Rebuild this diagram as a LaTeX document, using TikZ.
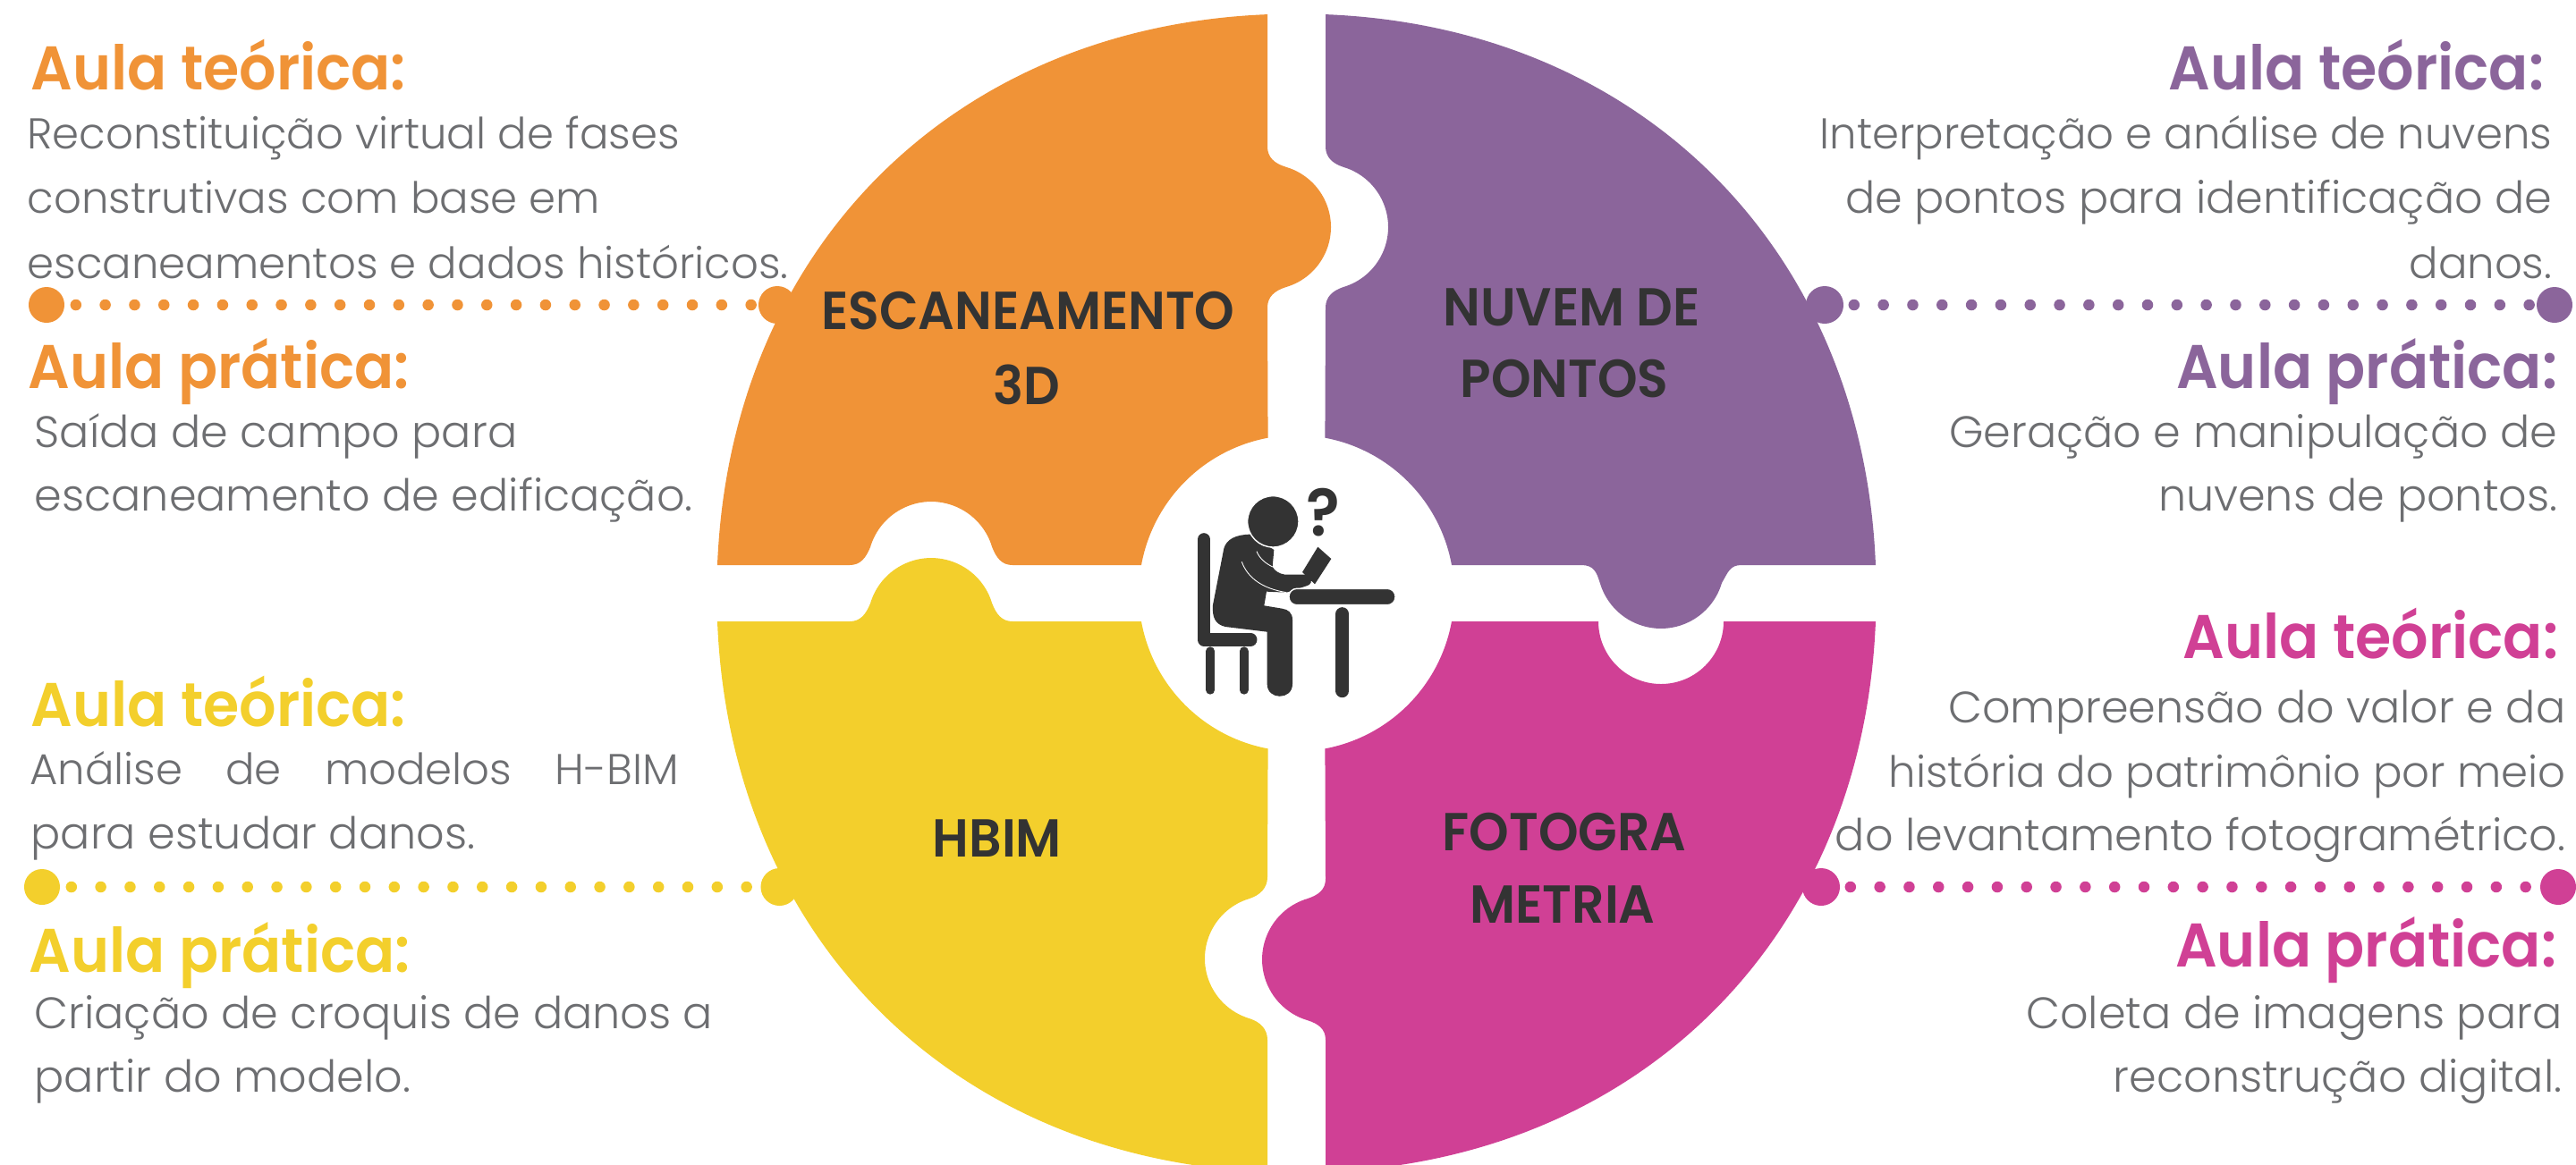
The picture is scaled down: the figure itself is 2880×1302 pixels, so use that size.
\documentclass[tikz,border=0pt]{standalone}
\usepackage{fontspec}
\usepackage{tikz}
\newfontfamily\bodyfont{Poppins Light}
\newfontfamily\headfont[FakeStretch=0.945]{Poppins SemiBold}
\newfontfamily\markfont[FakeStretch=0.95]{Poppins SemiBold}
\definecolor{cdark}{HTML}{333333}
\definecolor{cgray}{HTML}{6D6E71}
\definecolor{corange}{HTML}{F09337}
\definecolor{cpurple}{HTML}{8B659B}
\definecolor{cyellow}{HTML}{F3CF2C}
\definecolor{cmagenta}{HTML}{D04095}
\tikzset{
  headl/.style={anchor=base west,inner sep=0pt,font=\headfont\fontsize{19.6}{24}\selectfont},
  headr/.style={anchor=base east,inner sep=0pt,font=\headfont\fontsize{19.6}{24}\selectfont},
  bodyl/.style={anchor=base west,inner sep=0pt,text=cgray,font=\bodyfont\fontsize{13.7}{17}\selectfont},
  bodyr/.style={anchor=base east,inner sep=0pt,text=cgray,font=\bodyfont\fontsize{13.7}{17}\selectfont},
  bodywide/.style={font=\bodyfont\fontsize{14}{17}\selectfont},
  piecelabel/.style={anchor=base,inner sep=0pt,text=cdark,font=\markfont\fontsize{17}{20}\selectfont},
  knob/.style={circle,inner sep=0pt,minimum size=0.42cm,fill=#1},
  enddot/.style={circle,inner sep=0pt,minimum size=0.4cm,fill=#1},
  dotline/.style={line width=0.125cm,line cap=round,dash pattern=on 0pt off 0.328cm,color=#1},
  iconbar/.style={cdark,line cap=round,line join=round,line width=#1}
}
\begin{document}
\begin{tikzpicture}[x=0.01cm,y=-0.01cm]
\useasboundingbox (0,0) rectangle (2880,1302);
\clip (0,0) rectangle (2880,1302);
% puzzle pieces
\fill [corange] (1417,16.1) .. controls (1064.8,30.1) and (816.1,278.8) .. (802,632) -- (950,632)
  .. controls (962,632) and (968,624) .. (973,612) arc [start angle=-163.6,end angle=-16.4,radius=71]
  .. controls (1114,624) and (1120,632) .. (1132,632) -- (1276,632)
  arc [start angle=-169.7,end angle=-100.6,radius=177] -- (1417,344)
  .. controls (1417,332) and (1425,325) .. (1438,321) arc [start angle=73.4,end angle=-73.4,radius=70]
  .. controls (1425,183) and (1417,176) .. (1417,164) -- cycle;
\fill [cpurple] (1482,16.1) .. controls (1834.2,30.1) and (2082.9,278.8) .. (2097,632) -- (1947,632)
  .. controls (1934,632) and (1932,640) .. (1925,652) arc [start angle=16.4,end angle=163.6,radius=71]
  .. controls (1785,640) and (1782,632) .. (1768,632) -- (1623,632)
  arc [start angle=-10.3,end angle=-79.4,radius=177] -- (1482,344)
  .. controls (1482,332) and (1490,325) .. (1502,321) arc [start angle=73.4,end angle=-73.4,radius=70]
  .. controls (1490,183) and (1482,176) .. (1482,164) -- cycle;
\fill [cyellow] (802,695) -- (950,695)
  .. controls (962,695) and (968,687) .. (973,675) arc [start angle=-163.6,end angle=-16.4,radius=71]
  .. controls (1114,687) and (1120,695) .. (1132,695) -- (1276,695)
  arc [start angle=169.7,end angle=100.6,radius=177] -- (1417,981)
  .. controls (1417,993) and (1409,1001) .. (1397,1005) arc [start angle=-106.6,end angle=-253.4,radius=70]
  .. controls (1409,1143) and (1417,1151) .. (1417,1163) -- (1417,1310.9)
  .. controls (1064.8,1296.9) and (816.1,1048.2) .. (802,695) -- cycle;
\fill [cmagenta] (1482,1310.9) .. controls (1834.2,1296.9) and (2082.9,1048.2) .. (2097,695) -- (1927,695)
  arc [start angle=0,end angle=180,radius=70] -- (1623,695)
  arc [start angle=10.3,end angle=79.4,radius=177] -- (1482,983)
  .. controls (1482,995) and (1474,1001) .. (1462,1005) arc [start angle=-106.4,end angle=-253.6,radius=71]
  .. controls (1474,1145) and (1482,1151) .. (1482,1163) -- cycle;
% dotted connectors
\node (knoborange) [knob=corange] at (869,341) {};
\node (knobpurple) [knob=cpurple] at (2040,341) {};
\node (knobyellow) [knob=cyellow] at (871.5,992) {};
\node (knobmagenta) [knob=cmagenta] at (2036,992) {};
\node (endorange) [enddot=corange] at (52,341) {};
\node (endpurple) [enddot=cpurple] at (2856,341) {};
\node (endyellow) [enddot=cyellow] at (47,992) {};
\node (endmagenta) [enddot=cmagenta] at (2860,992) {};
\draw [dotline=corange] (endorange.center) -- (knoborange.center);
\draw [dotline=cpurple] (knobpurple.center) -- (endpurple.center);
\draw [dotline=cyellow] (endyellow.center) -- (knobyellow.center);
\draw [dotline=cmagenta] (knobmagenta.center) -- (endmagenta.center);
% piece labels
\node (lblescan) [piecelabel] at (1149.5,368) {ESCANEAMENTO};
\node (lblescanb) [piecelabel] at (1148,452) {3D};
\node (lblnuvem) [piecelabel] at (1757,364) {NUVEM DE};
\node (lblnuvemb) [piecelabel] at (1749,444) {PONTOS};
\node (lblhbim) [piecelabel] at (1115,958) {HBIM};
\node (lblfoto) [piecelabel] at (1749,951) {FOTOGRA};
\node (lblfotob) [piecelabel] at (1747,1032) {METRIA};
% orange texts
\node (ot1) [headl,text=corange] at (34,100) {Aula teórica:};
\node (ot2) [bodyl] at (30,166) {Reconstituição virtual de fases};
\node (ot3) [bodyl] at (30,238) {construtivas com base em};
\node (ot4) [bodyl] at (30,311) {escaneamentos e dados históricos.};
\node (ot5) [headl,text=corange] at (31,434) {Aula prática:};
\node (ot6) [bodyl,bodywide] at (38,500) {Saída de campo para};
\node (ot7) [bodyl,bodywide] at (38,571) {escaneamento de edificação.};
% purple texts
\node (pt1) [headr,text=cpurple] at (2845,100) {Aula teórica:};
\node (pt2) [bodyr] at (2854,166) {Interpretação e análise de nuvens};
\node (pt3) [bodyr,bodywide] at (2854,238) {de pontos para identificação de};
\node (pt4) [bodyr] at (2854,311) {danos.};
\node (pt5) [headr,text=cpurple] at (2860,434) {Aula prática:};
\node (pt6) [bodyr,bodywide] at (2860,500) {Geração e manipulação de};
\node (pt7) [bodyr,bodywide] at (2860,571) {nuvens de pontos.};
% yellow texts
\node (yt1) [headl,text=cyellow] at (34,812) {Aula teórica:};
\node (yt2) [bodyl] at (32.5,877.5) {\makebox[7.25cm][s]{Análise\hfill de\hfill modelos\hfill H-BIM}};
\node (yt3) [bodyl,bodywide] at (34,949.5) {para estudar danos.};
\node (yt4) [headl,text=cyellow] at (32,1087) {Aula prática:};
\node (yt5) [bodyl,bodywide] at (38,1150) {Criação de croquis de danos a};
\node (yt6) [bodyl,bodywide] at (38,1221) {partir do modelo.};
% magenta texts
\node (mt1) [headr,text=cmagenta] at (2861,736) {Aula teórica:};
\node (mt2) [bodyr,bodywide] at (2869,808.5) {Compreensão do valor e da};
\node (mt3) [bodyr] at (2869,880) {história do patrimônio por meio};
\node (mt4) [bodyr,bodywide] at (2869,951) {do levantamento fotogramétrico.};
\node (mt5) [headr,text=cmagenta] at (2859,1081) {Aula prática:};
\node (mt6) [bodyr,bodywide] at (2865,1150) {Coleta de imagens para};
\node (mt7) [bodyr,bodywide] at (2865,1221) {reconstrução digital.};
% student at the desk
\begin{scope}[shift={(1270,490)},x=0.01cm/3,y=-0.01cm/3]
\fill [cdark] (385,323) .. controls (335,323) and (303,340) .. (295,370) -- (258,560)
  .. controls (255,600) and (265,625) .. (300,633) -- (440,650) -- (440,825)
  .. controls (440,880) and (525,880) .. (525,825) -- (525,610)
  .. controls (525,585) and (510,575) .. (490,572) -- (430,562) -- (438,515) -- (505,518)
  -- (575,495) .. controls (598,485) and (590,460) .. (565,458) -- (500,458)
  .. controls (480,455) and (465,445) .. (458,432) -- (463,375) -- cycle;
\draw [white,line width=0.25pt] (355,415) .. controls (375,470) and (425,505) .. (505,518);
\draw [white,line width=0.25pt] (405,380) .. controls (415,405) and (435,420) .. (458,432);
\fill [cdark,draw=white,line width=0.4pt] (460,280) circle [radius=86];
\fill [cdark] (610,365) -- (655,405) -- (600,490) -- (558,450) -- cycle;
\draw [iconbar=0.143cm] (228,340) -- (228,676) -- (385,676);
\draw [iconbar=0.1cm] (250,715) -- (250,845);
\draw [iconbar=0.1cm] (362,715) -- (362,845);
\fill [cdark,draw=white,line width=0.4pt,rounded corners=2.5pt] (513,505) rectangle (870,560);
\draw [iconbar=0.15cm] (692.5,590) -- (692.5,848);
\node (qmark) [inner sep=0pt,text=cdark,font=\markfont\fontsize{21}{24}\selectfont] at (627,250) {?};
\end{scope}
\end{tikzpicture}
\end{document}
